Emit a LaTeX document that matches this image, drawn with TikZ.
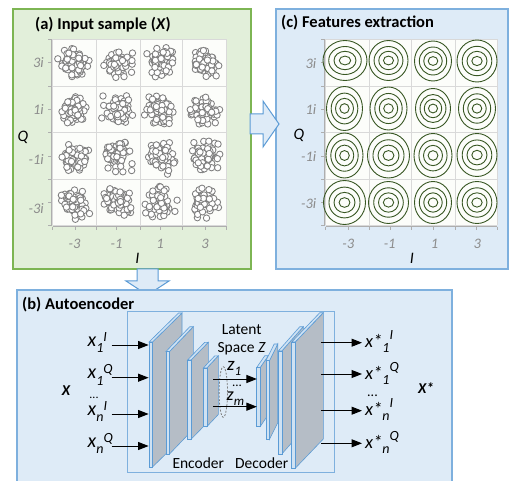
\documentclass[tikz,border=0pt]{standalone}
\usepackage{fontspec}
\setmainfont{Carlito}
\usetikzlibrary{arrows.meta}

\definecolor{pgreen}{HTML}{E2EFDA}
\definecolor{pgreenline}{HTML}{7DB553}
\definecolor{pblue}{HTML}{DEEBF7}
\definecolor{pblueline}{HTML}{7EB0DE}
\definecolor{plotbg}{HTML}{FCFDFA}
\definecolor{gridc}{HTML}{D9D9D9}
\definecolor{tickc}{HTML}{8C8C8C}
\definecolor{contour}{HTML}{385723}
\definecolor{slabface}{HTML}{B5BDC6}
\definecolor{slabedge}{HTML}{CFE2F3}
\definecolor{slabline}{HTML}{5B9BD5}
\definecolor{dotc}{HTML}{7F7F7F}

% one layer plate: x, top y, bottom y, skew dx, skew dy
\newcommand\aeslab[5]{%
  \filldraw[fill=slabface, draw=slabline, line width=0.6pt]
    ({#1+3.5},{#2}) -- ({#1+3.5+#4},{#2-#5}) -- ({#1+3.5+#4},{#3-#5}) -- ({#1+3.5},{#3}) -- cycle;
  \filldraw[fill=slabedge, draw=slabline, line width=0.6pt]
    ({#1},{#2}) -- ({#1+#4},{#2-#5}) -- ({#1+3.5+#4},{#2-#5}) -- ({#1+3.5},{#2}) -- cycle;
  \filldraw[fill=slabedge, draw=slabline, line width=0.6pt]
    ({#1},{#2}) rectangle ({#1+3.5},{#3});
}
\newcommand\inlabel[3]{#1\raisebox{-6.5pt}{\fontsize{14}{14}\selectfont #2}\raisebox{5pt}{\fontsize{14}{14}\selectfont #3}}
\newcommand\outlabel[3]{#1*\raisebox{-5pt}{\fontsize{14}{14}\selectfont #2}\raisebox{8pt}{\fontsize{14}{14}\selectfont #3}}

\begin{document}
\begin{tikzpicture}[x=1pt,y=-1pt,
  panelA/.style={fill=pgreen, draw=pgreenline, line width=1.3pt},
  panelB/.style={fill=pblue, draw=pblueline, line width=1.3pt},
  blockarrow/.style={fill=pblue, draw=slabline, line width=1pt, line join=miter},
  gridline/.style={draw=gridc, line width=0.8pt},
  axisline/.style={draw=gridc!80!black, line width=0.8pt},
  title/.style={font=\fontsize{16.5}{19}\selectfont\bfseries, anchor=base west, inner sep=0pt},
  ticklab/.style={font=\fontsize{14.5}{16}\selectfont\itshape, text=tickc, inner sep=0pt},
  axlab/.style={font=\fontsize{16}{19}\selectfont\itshape, inner sep=0pt},
  dot/.style={draw=dotc, fill=white, line width=0.85pt},
  ring/.style={draw=contour, line width=0.9pt},
  iolab/.style={font=\fontsize{20}{22}\selectfont\itshape, anchor=base west, inner sep=0pt},
  oulab/.style={font=\fontsize{18.5}{22}\selectfont\itshape, anchor=base west, inner sep=0pt},
  plain/.style={font=\fontsize{15.5}{18}\selectfont, inner sep=0pt},
  arr/.style={line width=1pt, -{Triangle[length=10.5pt,width=8pt]}},
]
\useasboundingbox (0,0) rectangle (509,481);
\clip (0,0) rectangle (509,481);

% ---------- panel (a): input constellation ----------
\draw[panelA] (13,9) rectangle (251,269);
\node[title] (ta) at (35,30) {(a) Input sample (\textit{X})};
\fill[plotbg] (52.7,39.3) rectangle (226.7,225);
\foreach \x in {52.7,96.7,140,182.7,226.7} \draw[gridline] (\x,39.3) -- (\x,225);
\foreach \y in {39.3,86,132.7,179.3,225} \draw[gridline] (52.7,\y) -- (226.7,\y);
\draw[axisline] (52.7,226.7) -- (226.7,226.7);
\foreach \x in {52.7,75,96.7,116.7,140,160,182.7,205,226.7} \draw[axisline] (\x,226.7) -- (\x,230.5);
\draw[axisline] (51.5,39.3) -- (51.5,225);
\foreach \y in {39.3,62.5,86,109.5,132.7,156,179.3,202,225} \draw[axisline] (51.5,\y) -- (48,\y);
\foreach \lab/\yb in {3i/67.7,1i/115,-1i/165,-3i/213.3}
  \node[ticklab, anchor=base east] at (44,\yb) {\lab};
\foreach \lab/\xc in {-3/74.5,-1/116.5,1/160,3/205}
  \node[ticklab, anchor=base] at (\xc,248.3) {\lab};
\node[axlab, anchor=base west] (qa) at (17.5,141.7) {Q};
\node[axlab, anchor=base] (ia) at (137.5,263.3) {I};

% noisy received symbols
\pgfmathsetseed{7}
\foreach \cx in {75,118,161,205} {
  \foreach \cy in {63,110,156.5,203} {
    \foreach \k in {1,...,72} {
      \pgfmathsetmacro\px{\cx+13*(rnd+rnd+rnd-1.5)}
      \pgfmathsetmacro\py{\cy+13*(rnd+rnd+rnd-1.5)}
      \draw[dot] (\px,\py) circle[radius=3.2pt];
    }
  }
}

% ---------- panel (c): extracted features ----------
\draw[panelB] (276,9) rectangle (508,269);
\node[title] (tc) at (281,28) {(c) Features extraction};
\fill[plotbg] (325.7,39.3) rectangle (497.3,225);
\foreach \x in {325.7,369,411.7,455,497.3} \draw[gridline] (\x,39.3) -- (\x,225);
\foreach \y in {39.3,86,132.7,179.3,225} \draw[gridline] (325.7,\y) -- (497.3,\y);
\draw[axisline] (325.7,226.7) -- (497.3,226.7);
\foreach \x in {325.7,348.3,369,390,411.7,433.3,455,476.7,497.3} \draw[axisline] (\x,226.7) -- (\x,230.5);
\draw[axisline] (324.5,39.3) -- (324.5,225);
\foreach \y in {39.3,62.5,86,109.5,132.7,156,179.3,202,225} \draw[axisline] (324.5,\y) -- (321,\y);
\foreach \lab/\yb in {3i/68.3,1i/115,-1i/161.7,-3i/208.3}
  \node[ticklab, anchor=base east] at (316.5,\yb) {\lab};
\foreach \lab/\xc in {-3/348.3,-1/389.7,1/434.5,3/477.3}
  \node[ticklab, anchor=base] at (\xc,248.3) {\lab};
\node[axlab, anchor=base west] (qc) at (293.3,140) {Q};
\node[axlab, anchor=base] (ic) at (412,263.3) {I};

% contour rings: centre x, centre y, outer x radius, outer y radius
\foreach \cx/\cy/\rx/\ry in {
  345/60.5/22/20, 388.5/60.5/19.5/20, 433/61/18.5/20, 477/61/20/21,
  344.5/108.5/18/22, 388.5/108.5/18.5/21.5, 433/108.5/17.5/20, 477/108.5/18.5/21,
  344.5/155.5/18.5/22.5, 388.5/155.5/21/22.5, 433/155.5/19/22, 477/155/20/21.5,
  344.5/202.5/21/22, 388.5/202.5/20/21, 433/202.5/18.5/21, 477/202.5/20/21} {
  \draw[ring] (\cx,\cy) ellipse[x radius=\rx*0.26, y radius=\ry*0.22];
  \draw[ring] (\cx,\cy) ellipse[x radius=\rx*0.5, y radius=\ry*0.46];
  \draw[ring] (\cx,\cy) ellipse[x radius=\rx*0.74, y radius=\ry*0.7];
  \draw[ring] (\cx,\cy) ellipse[x radius=\rx, y radius=\ry];
}

% ---------- block arrows between panels ----------
\coordinate (ra) at (250,124);
\filldraw[blockarrow] (ra) ++(0,-10) -- ++(13,0) -- ++(0,-13) -- (279,124) -- (263,147) -- (263,134) -- (250,134) -- cycle;
\coordinate (da) at (147.5,269);
\filldraw[blockarrow] (137,269) -- (158,269) -- (158,281) -- (169,281) -- (147.5,295) -- (126,281) -- (137,281) -- cycle;

% ---------- panel (b): autoencoder ----------
\draw[panelB] (17,290) rectangle (452,495);
\node[title] (tb) at (22,309) {(b) Autoencoder};
\draw[panelB] (127.7,311.7) rectangle (334.3,472.7);

% encoder plates
\aeslab{149}{342}{467}{29.5}{29}
\aeslab{166}{351.5}{454}{23.8}{24.8}
\aeslab{187.5}{360}{439.3}{17.3}{17.7}
\aeslab{203.3}{368}{426.7}{11.5}{12.2}
% decoder plates
\aeslab{256.7}{367.5}{426.5}{8.1}{11.8}
\aeslab{266}{360.5}{439.3}{8.2}{16.5}
\aeslab{278.3}{351}{454}{21.5}{24.3}
\aeslab{291.7}{342}{468.3}{28.1}{29.3}

% inputs
\foreach \nm/\y/\sb/\sp in {i1/345/1/I, i2/377.7/1/Q, i3/414/n/I, i4/446/n/Q} {
  \node[iolab] (\nm) at (87.5,\y+1) {\inlabel{x}{\sb}{\sp}};
  \coordinate (\nm s) at (111.7,\y);
  \coordinate (\nm e) at (148.6,\y);
  \draw[arr] (\nm s) -- (\nm e);
}
\node[font=\fontsize{12}{14}\selectfont, anchor=base, inner sep=0pt] (idots) at (94,398.5) {...};
\node[font=\fontsize{15}{18}\selectfont\bfseries\itshape, anchor=base, inner sep=0pt] (xin) at (66,395) {X};

% outputs
\foreach \nm/\y/\sb/\sp in {o1/342.7/1/I, o2/374/1/Q, o3/410.7/n/I, o4/443.3/n/Q} {
  \coordinate (\nm s) at (321,\y);
  \coordinate (\nm e) at (362,\y);
  \draw[arr] (\nm s) -- (\nm e);
  \node[oulab] (\nm) at (365,\y+5.2) {\outlabel{x}{\sb}{\sp}};
}
\node[font=\fontsize{14}{16}\selectfont, anchor=base, inner sep=0pt] (odots) at (372.5,396.5) {...};
\node[font=\fontsize{15}{18}\selectfont\bfseries\itshape, anchor=base west, inner sep=0pt] (xout) at (418,393.3) {X*};

% latent space
\draw[draw=dotc, dash pattern=on 2pt off 1.5pt, line width=0.8pt] (223.3,392) ellipse[x radius=4.2pt, y radius=25.3pt];
\coordinate (z1s) at (213.3,379);
\coordinate (z1e) at (256.9,379);
\coordinate (zms) at (213.3,406.7);
\coordinate (zme) at (256.9,406.7);
\draw[arr] (z1s) -- (z1e);
\draw[arr] (zms) -- (zme);
\node[iolab, font=\fontsize{19}{22}\selectfont\itshape] (z1) at (227,370.5) {z\raisebox{-5pt}{\fontsize{13}{13}\selectfont 1}};
\node[font=\fontsize{13}{15}\selectfont, anchor=base, inner sep=0pt] (zdots) at (237,386) {...};
\node[iolab, font=\fontsize{18}{22}\selectfont\itshape] (zm) at (226.5,400.5) {z\raisebox{-5pt}{\fontsize{13}{13}\selectfont m}};
\node[plain] (lat) at (241.7,329.3) {Latent};
\node[plain] (spz) at (241.7,348.3) {Space \textit{Z}};
\node[plain] (enc) at (198.3,463.3) {Encoder};
\node[plain] (dec) at (261.7,463.3) {Decoder};
\end{tikzpicture}
\end{document}
